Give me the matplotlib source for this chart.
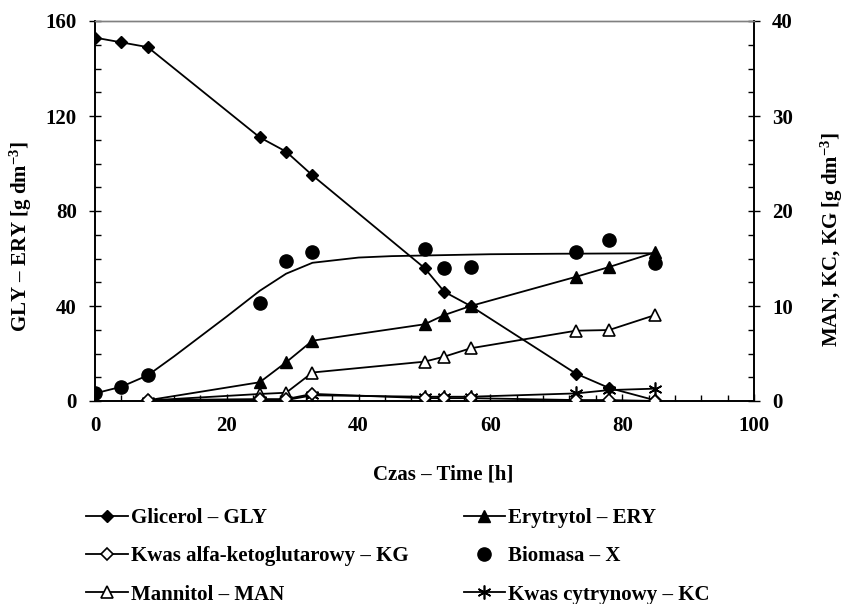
import matplotlib
matplotlib.use('Agg')
import matplotlib.pyplot as plt
from matplotlib.ticker import MultipleLocator

plt.rcParams['font.family'] = ['Liberation Serif', 'DejaVu Serif']
plt.rcParams['font.weight'] = 'bold'
plt.rcParams['mathtext.fontset'] = 'custom'
plt.rcParams['mathtext.rm'] = 'Liberation Serif:bold'
plt.rcParams['mathtext.bf'] = 'Liberation Serif:bold'
plt.rcParams['mathtext.it'] = 'Liberation Serif:bold:italic'

# czas pomiaru [h]
time_h = [0, 4, 8, 25, 29, 33, 50, 53, 57, 73, 78, 85]
# produkty mierzone od 8 h
time_prod = [8, 25, 29, 33, 50, 53, 57, 73, 78, 85]

# lewa os [g dm-3]
gly = [153, 151, 149, 111, 105, 95, 56, 46, 40, 11.5, 5.5, 0.3]
ery = [0.3, 7.9, 16.3, 25.4, 32.3, 36.2, 40, 52.3, 56.4, 62.6]

# prawa os [g dm-3]
biomass = [0.8, 1.5, 2.7, 10.35, 14.7, 15.65, 16.0, 14.0, 14.1, 15.7, 16.9, 14.5]
man = [0.05, 0.74, 0.87, 3.0, 4.14, 4.67, 5.55, 7.4, 7.47, 9.05]
kg = [0.1, 0.2, 0.2, 0.75, 0.3, 0.3, 0.3, 0.1, 0.1, 0.0]
kc = [0.0, 0.1, 0.1, 0.6, 0.45, 0.45, 0.45, 0.8, 1.15, 1.3]

# krzywa modelu biomasy
model_t = [0, 4, 8, 12, 16, 20, 25, 29, 33, 40, 45, 60, 70, 85]
model_x = [0.8, 1.5, 2.7, 4.7, 6.8, 8.9, 11.6, 13.4, 14.55, 15.1, 15.25, 15.45, 15.5, 15.55]

FS = 15

fig = plt.figure(figsize=(8.47, 6.04), dpi=100)
ax = fig.add_axes([95 / 847, 1 - 401 / 604, 659 / 847, 380 / 604])
ax2 = ax.twinx()

lw = 1.3
h_gly, = ax.plot(time_h, gly, color='black', lw=lw, marker='D', ms=6.5,
                 mfc='black', mec='black', label='Glicerol – GLY', zorder=3)
h_ery, = ax.plot(time_prod, ery, color='black', lw=lw, marker='^', ms=8.5,
                 mfc='black', mec='black', label='Erytrytol – ERY', zorder=3)

ax2.plot(model_t, model_x, color='black', lw=lw, zorder=2)
h_x, = ax2.plot(time_h, biomass, ls='none', marker='o', ms=9.5,
                mfc='black', mec='black', label='Biomasa – X', zorder=3)
h_man, = ax2.plot(time_prod, man, color='black', lw=lw, marker='^', ms=8.5,
                  mfc='white', mec='black', mew=1.2, label='Mannitol – MAN', zorder=3)
h_kc, = ax2.plot(time_prod, kc, color='black', lw=lw, marker=(6, 2, 0), ms=10,
                 mec='black', mew=1.2, label='Kwas cytrynowy – KC', zorder=3)
h_kg, = ax2.plot(time_prod, kg, color='black', lw=lw, marker='D', ms=6.5,
                 mfc='white', mec='black', mew=1.2,
                 label='Kwas alfa-ketoglutarowy – KG', zorder=4)

ax.set_xlim(0, 100)
ax.set_ylim(0, 160)
ax2.set_ylim(0, 40)
ax.xaxis.set_major_locator(MultipleLocator(20))
ax.xaxis.set_minor_locator(MultipleLocator(4))
ax.yaxis.set_major_locator(MultipleLocator(40))
ax.yaxis.set_minor_locator(MultipleLocator(10))
ax2.yaxis.set_major_locator(MultipleLocator(10))
ax2.yaxis.set_minor_locator(MultipleLocator(2.5))

for a in (ax, ax2):
    a.tick_params(which='major', direction='inout', length=8, width=1,
                  labelsize=FS, pad=9)
    a.tick_params(which='minor', direction='in', length=4, width=1)
    for s in a.spines.values():
        s.set_linewidth(1.2)
    a.spines['top'].set_color('#808080')
    a.spines['top'].set_linewidth(1)
ax.tick_params(axis='x', which='major', direction='in', length=5, pad=11)
ax.tick_params(axis='y', which='both', right=False)
ax2.tick_params(axis='y', which='both', left=False)

fig.text(443 / 847, 1 - 475 / 604, 'Czas – Time [h]', ha='center', va='center',
         fontsize=FS, fontweight='bold')
fig.text(21 / 847, 1 - 237 / 604, 'GLY – ERY [g dm$^{-3}$]', rotation=90,
         ha='center', va='center', fontsize=FS, fontweight='bold')
fig.text(832 / 847, 1 - 239 / 604, 'MAN, KC, KG [g dm$^{-3}$]', rotation=90,
         ha='center', va='center', fontsize=FS, fontweight='bold')

handles = [h_gly, h_kg, h_man, h_ery, h_x, h_kc]
fig.legend(handles, [h.get_label() for h in handles], ncol=2,
           loc='upper left', bbox_to_anchor=(86 / 847, 1 - 508 / 604),
           frameon=False, fontsize=FS, handlelength=2.0, handletextpad=0.15,
           columnspacing=2.65, labelspacing=0.88, borderpad=0, borderaxespad=0)

fig.savefig('out.png', dpi=100)
